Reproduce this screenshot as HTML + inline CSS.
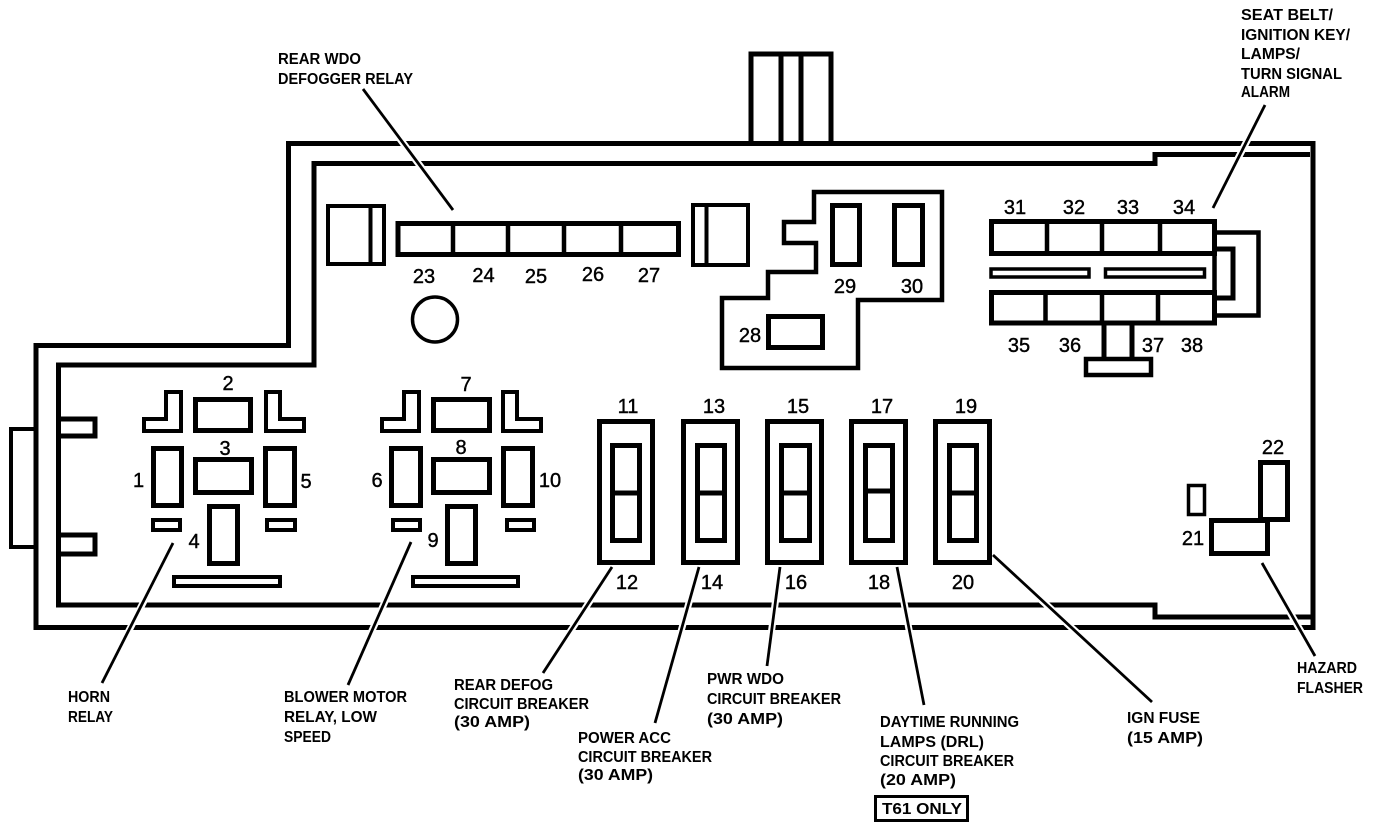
<!DOCTYPE html>
<html><head><meta charset="utf-8"><style>
html,body{margin:0;padding:0;background:#fff;width:1376px;height:828px;overflow:hidden}
svg{display:block}
.n{font:400 20px "Liberation Sans",sans-serif;fill:#000;stroke:#000;stroke-width:.4;text-anchor:middle}
.l{font:700 16px "Liberation Sans",sans-serif;fill:#000}
</style></head><body>
<svg width="1376" height="828" viewBox="0 0 1376 828" xmlns="http://www.w3.org/2000/svg">
<rect width="1376" height="828" fill="#fff"/>
<g fill="none" stroke="#000" stroke-width="5" stroke-linejoin="miter">
<!-- body -->
<path d="M36 627.500V345.500H288.500V143.500H1313V627.500Z"/>
<path d="M1310 154.500H1155V163.500H314V365H58.500V605H1155V617H1313"/>
<rect x="11" y="429" width="25" height="118" stroke-width="4"/>
<path d="M58 419H95V436H58M58 535H95V554H58" stroke-width="5"/>
<!-- top connector -->
<path d="M751 143V54H831V143M781 54V143M801 54V143"/>
<!-- group 1 -->
<g stroke-width="4">
<path d="M166 392H181V431H144V419H166ZM266 392H280V419H304V431H266Z" />
<path d="M404 392H419V431H382V419H404ZM503 392H517V419H541V431H503Z"/>
</g>
<rect x="195.500" y="399.500" width="55" height="31"/>
<rect x="195.500" y="459.500" width="56" height="33"/>
<rect x="153.500" y="448.500" width="28" height="57"/>
<rect x="265.500" y="448.500" width="29" height="57"/>
<rect x="209.500" y="506.500" width="28" height="57"/>
<g stroke-width="4">
<rect x="153" y="520" width="27" height="10"/>
<rect x="267" y="520" width="28" height="10"/>
<rect x="174" y="577" width="106" height="9"/>
<rect x="393" y="520" width="27" height="10"/>
<rect x="507" y="520" width="27" height="10"/>
<rect x="413" y="577" width="105" height="9"/>
</g>
<!-- group 2 -->
<rect x="433.500" y="399.500" width="56" height="31"/>
<rect x="433.500" y="459.500" width="56" height="33"/>
<rect x="391.500" y="448.500" width="29" height="57"/>
<rect x="503.500" y="448.500" width="29" height="57"/>
<rect x="447.500" y="506.500" width="28" height="57"/>
<!-- breakers -->
<rect x="599.500" y="421.500" width="53" height="141"/>
<rect x="683.500" y="421.500" width="54" height="141"/>
<rect x="767.500" y="421.500" width="54" height="141"/>
<rect x="851.500" y="421.500" width="54" height="141"/>
<rect x="935.500" y="421.500" width="54" height="141"/>
<path d="M612.500 445.500H639.500V540.500H612.500ZM612.500 493H639.500"/>
<path d="M697.500 445.500H724.500V540.500H697.500ZM697.500 493H724.500"/>
<path d="M781.500 445.500H809.500V540.500H781.500ZM781.500 493H809.500"/>
<path d="M865.500 445.500H892.500V540.500H865.500ZM865.500 491H892.500"/>
<path d="M949.500 445.500H976.500V540.500H949.500ZM949.500 493H976.500"/>
<!-- top row -->
<path d="M328 206H384V264H328ZM370.500 206V264" stroke-width="4"/>
<rect x="398" y="223.500" width="280.500" height="31"/>
<path d="M453 223V255M508 223V255M564 223V255M621 223V255" stroke-width="4.500"/>
<path d="M693 205H748V265H693ZM706.500 205V265" stroke-width="4"/>
<circle cx="435" cy="319.500" r="22.500" stroke-width="3.500"/>
<!-- central shape -->
<path d="M814 192H942V300H858V368H722V298H768V272H816V243H784V222H814Z" stroke-width="4.500"/>
<rect x="832.500" y="205.500" width="27" height="59"/>
<rect x="894.500" y="205.500" width="28" height="59"/>
<rect x="768.500" y="316.500" width="54" height="31"/>
<!-- right blocks -->
<path d="M1216 232.500H1258.500V315.500H1216" stroke-width="4.500"/>
<path d="M1216 249H1233V298H1216"/>
<rect x="991.500" y="221.500" width="223" height="32"/>
<rect x="991.500" y="292.500" width="223" height="30.500"/>
<path d="M1047 221V254M1102 221V254M1160 221V254M1045.500 292V323M1102 292V323M1158 292V323" stroke-width="4.500"/>
<path d="M1214.500 254V292" stroke-width="4.500"/>
<g stroke-width="3.500">
<rect x="991" y="269" width="98" height="8"/>
<rect x="1105.500" y="269" width="99" height="8"/>
</g>
<path d="M1104 325V357M1132 325V357" stroke-width="5"/>
<rect x="1086" y="359" width="65" height="16" stroke-width="4.500"/>
<!-- 21 22 -->
<rect x="1260.500" y="462.500" width="27" height="57"/>
<rect x="1211.500" y="520.500" width="56" height="33"/>
<rect x="1188.500" y="485.500" width="16" height="29" stroke-width="3.500"/>
</g>
<!-- leaders -->
<g fill="none" stroke="#fff" stroke-width="7">
<path d="M397 135L424 171M1250 135L1231 172M146 597L126.700 635M387 597L370 635M592.500 597L568 635M690.500 597L680 635M776 597L771 635M903 597L910 635M1038 597L1079.500 635M1288 609L1303 635"/>
</g>
<g fill="none" stroke="#000" stroke-width="2.800">
<path d="M363 89L453 210"/>
<path d="M1265 105L1213 208"/>
<path d="M173 543L102 683"/>
<path d="M411 542L348 685"/>
<path d="M612 567L543 673"/>
<path d="M699 567L655 723"/>
<path d="M780 567L767 666"/>
<path d="M897 567L924 705"/>
<path d="M993 555L1152 702"/>
<path d="M1262 563L1315 656"/>
</g>
<rect x="875.500" y="796.500" width="92" height="24" fill="none" stroke="#000" stroke-width="3"/>
<!-- numbers -->
<g>
<text class="n" x="228" y="390">2</text><text class="n" x="225" y="455">3</text><text class="n" x="138.500" y="487">1</text><text class="n" x="306" y="488">5</text><text class="n" x="194" y="548">4</text>
<text class="n" x="466" y="391">7</text><text class="n" x="461" y="454">8</text><text class="n" x="377" y="487">6</text><text class="n" x="550" y="487">10</text><text class="n" x="433" y="547">9</text>
<text class="n" x="628" y="413">11</text><text class="n" x="714" y="413">13</text><text class="n" x="798" y="413">15</text><text class="n" x="882" y="413">17</text><text class="n" x="966" y="413">19</text>
<text class="n" x="627" y="589">12</text><text class="n" x="712" y="589">14</text><text class="n" x="796" y="589">16</text><text class="n" x="879" y="589">18</text><text class="n" x="963" y="589">20</text>
<text class="n" x="424" y="283">23</text><text class="n" x="483.500" y="282">24</text><text class="n" x="536" y="283">25</text><text class="n" x="593" y="281">26</text><text class="n" x="649" y="282">27</text>
<text class="n" x="845" y="293">29</text><text class="n" x="912" y="293">30</text><text class="n" x="750" y="342">28</text>
<text class="n" x="1015" y="214">31</text><text class="n" x="1074" y="214">32</text><text class="n" x="1128" y="214">33</text><text class="n" x="1184" y="214">34</text>
<text class="n" x="1019" y="352">35</text><text class="n" x="1070" y="352">36</text><text class="n" x="1153" y="352">37</text><text class="n" x="1192" y="352">38</text>
<text class="n" x="1273" y="454">22</text><text class="n" x="1193" y="545">21</text>
</g>
<!-- labels -->
<g>
<text class="l" x="278" y="64" textLength="83" lengthAdjust="spacingAndGlyphs">REAR WDO</text>
<text class="l" x="278" y="84" textLength="135" lengthAdjust="spacingAndGlyphs">DEFOGGER RELAY</text>
<text class="l" x="1241" y="20" textLength="92" lengthAdjust="spacingAndGlyphs">SEAT BELT/</text>
<text class="l" x="1241" y="40" textLength="109" lengthAdjust="spacingAndGlyphs">IGNITION KEY/</text>
<text class="l" x="1241" y="59" textLength="59" lengthAdjust="spacingAndGlyphs">LAMPS/</text>
<text class="l" x="1241" y="79" textLength="101" lengthAdjust="spacingAndGlyphs">TURN SIGNAL</text>
<text class="l" x="1241" y="97" textLength="49" lengthAdjust="spacingAndGlyphs">ALARM</text>
<text class="l" x="68" y="702" textLength="42" lengthAdjust="spacingAndGlyphs">HORN</text>
<text class="l" x="68" y="722" textLength="45" lengthAdjust="spacingAndGlyphs">RELAY</text>
<text class="l" x="284" y="702" textLength="123" lengthAdjust="spacingAndGlyphs">BLOWER MOTOR</text>
<text class="l" x="284" y="722" textLength="93" lengthAdjust="spacingAndGlyphs">RELAY, LOW</text>
<text class="l" x="284" y="742" textLength="47" lengthAdjust="spacingAndGlyphs">SPEED</text>
<text class="l" x="454" y="690" textLength="99" lengthAdjust="spacingAndGlyphs">REAR DEFOG</text>
<text class="l" x="454" y="709" textLength="135" lengthAdjust="spacingAndGlyphs">CIRCUIT BREAKER</text>
<text class="l" x="454" y="727" textLength="76" lengthAdjust="spacingAndGlyphs">(30 AMP)</text>
<text class="l" x="578" y="743" textLength="93" lengthAdjust="spacingAndGlyphs">POWER ACC</text>
<text class="l" x="578" y="762" textLength="134" lengthAdjust="spacingAndGlyphs">CIRCUIT BREAKER</text>
<text class="l" x="578" y="780" textLength="75" lengthAdjust="spacingAndGlyphs">(30 AMP)</text>
<text class="l" x="707" y="684" textLength="77" lengthAdjust="spacingAndGlyphs">PWR WDO</text>
<text class="l" x="707" y="704" textLength="134" lengthAdjust="spacingAndGlyphs">CIRCUIT BREAKER</text>
<text class="l" x="707" y="724" textLength="76" lengthAdjust="spacingAndGlyphs">(30 AMP)</text>
<text class="l" x="880" y="727" textLength="139" lengthAdjust="spacingAndGlyphs">DAYTIME RUNNING</text>
<text class="l" x="880" y="747" textLength="104" lengthAdjust="spacingAndGlyphs">LAMPS (DRL)</text>
<text class="l" x="880" y="766" textLength="134" lengthAdjust="spacingAndGlyphs">CIRCUIT BREAKER</text>
<text class="l" x="880" y="785" textLength="76" lengthAdjust="spacingAndGlyphs">(20 AMP)</text>
<text class="l" x="882" y="814" textLength="80" lengthAdjust="spacingAndGlyphs">T61 ONLY</text>
<text class="l" x="1127" y="723" textLength="73" lengthAdjust="spacingAndGlyphs">IGN FUSE</text>
<text class="l" x="1127" y="743" textLength="76" lengthAdjust="spacingAndGlyphs">(15 AMP)</text>
<text class="l" x="1297" y="673" textLength="60" lengthAdjust="spacingAndGlyphs">HAZARD</text>
<text class="l" x="1297" y="693" textLength="66" lengthAdjust="spacingAndGlyphs">FLASHER</text>
</g>
</svg>
</body></html>
